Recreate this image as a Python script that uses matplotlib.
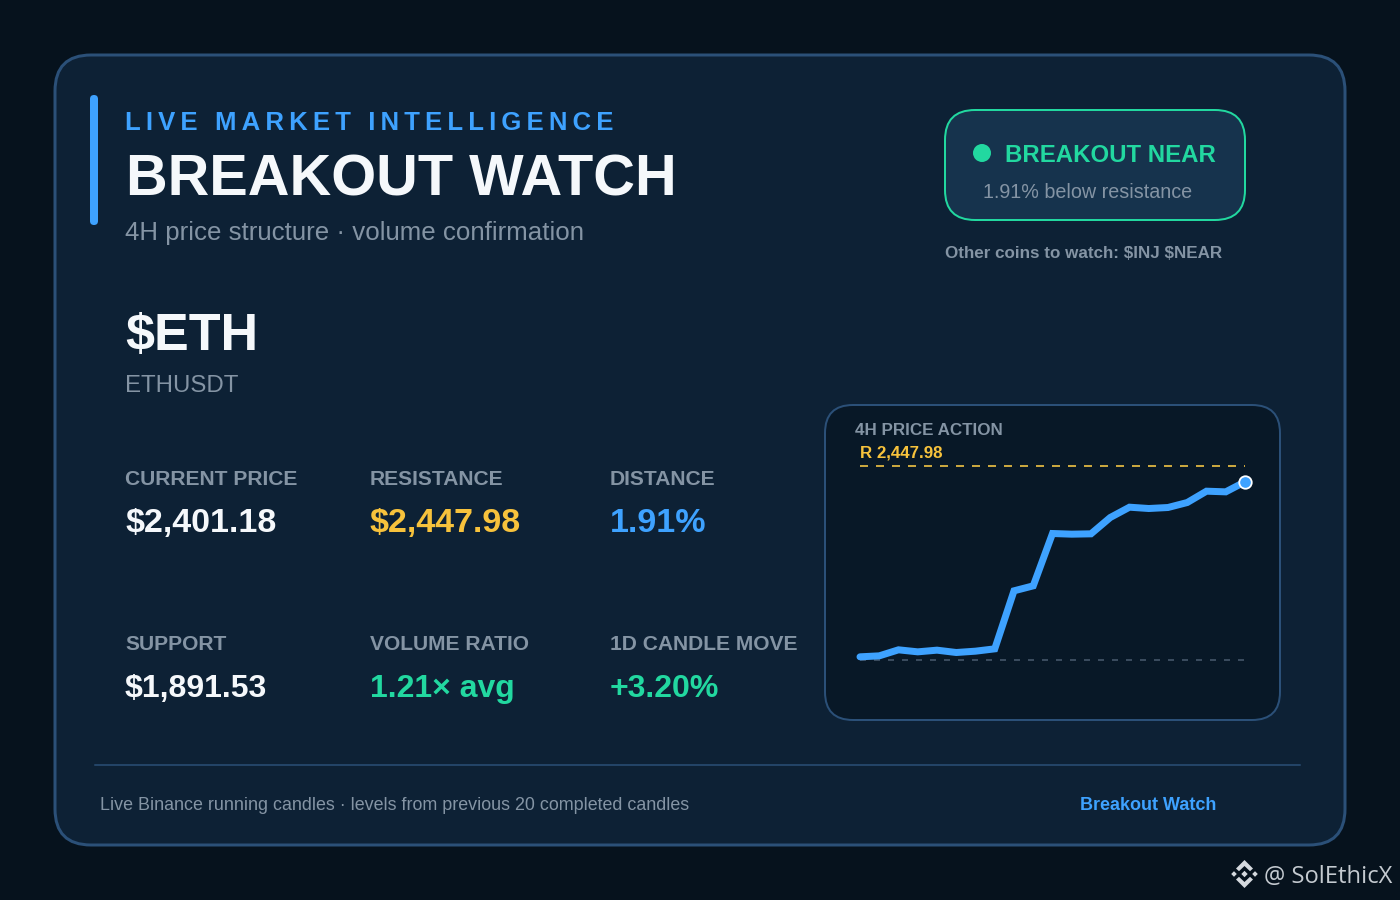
import matplotlib
matplotlib.use("Agg")
import matplotlib.pyplot as plt
from matplotlib.patches import FancyBboxPatch, Circle, Polygon

plt.rcParams['font.family'] = ['Liberation Sans', 'DejaVu Sans']

# ---- data ----
prices = [1899.2, 1902.0, 1919.3, 1913.5, 1918.3, 1911.6, 1915.4, 1922.1, 2088.5, 2102.8,
          2252.9, 2251.0, 2252.0, 2298.8, 2328.4, 2324.6, 2327.5, 2341.8, 2374.3, 2372.4, 2401.18]
candles = list(range(len(prices)))
resistance = 2447.98
support = 1891.53
metric_labels = ["CURRENT PRICE", "RESISTANCE", "DISTANCE", "SUPPORT", "VOLUME RATIO", "1D CANDLE MOVE"]
metric_values = ["$2,401.18", "$2,447.98", "1.91%", "$1,891.53", "1.21× avg", "+3.20%"]

BG = "#06121d"; CARD = "#0d2135"; BORDER = "#2b5078"; PANEL = "#081827"
BLUE = "#3ea2ff"; GREEN = "#22d8a0"; GOLD = "#f7c23c"; WHITE = "#f5f8fb"; GRAY = "#8494a4"
metric_colors = [WHITE, GOLD, BLUE, WHITE, GREEN, GREEN]

px = 0.72
fig = plt.figure(figsize=(14, 9), dpi=100, facecolor=BG)
bg = fig.add_axes([0, 0, 1, 1])
bg.set_xlim(0, 1400); bg.set_ylim(900, 0); bg.axis("off")

def rbox(x0, y0, x1, y1, r, fc, ec, lw):
    bg.add_patch(FancyBboxPatch((x0 + r, y0 + r), x1 - x0 - 2 * r, y1 - y0 - 2 * r,
                                boxstyle=f"round,pad={r},rounding_size={r}",
                                fc=fc, ec=ec, lw=lw * px, mutation_aspect=1))

def txt(x, y, s, size, color, weight="normal", **kw):
    bg.text(x, y, s, fontsize=size * px, color=color, weight=weight, va="baseline", parse_math=False, **kw)

rbox(55, 55, 1345, 845, 36, CARD, BORDER, 3)
rbox(90, 95, 98, 225, 4, BLUE, "none", 0)
txt(125, 130, "\u2009".join("LIVE MARKET INTELLIGENCE"), 25.7, BLUE, "bold")
txt(126, 195, "BREAKOUT WATCH", 57.8, WHITE, "bold")
txt(125, 240, "4H price structure · volume confirmation", 25.9, GRAY)
txt(125, 350, "$ETH", 52, WHITE, "bold")
txt(125, 392, "ETHUSDT", 24, GRAY)

xs = [125, 370, 610]
rows = [(485, 532, 34), (650, 697, 32)]
for i, (lab, val, col) in enumerate(zip(metric_labels, metric_values, metric_colors)):
    lb, vb, vs = rows[i // 3]
    txt(xs[i % 3], lb, lab, 21, GRAY, "bold")
    txt(xs[i % 3], vb, val, vs, col, "bold")

rbox(945, 110, 1245, 220, 30, "#16334d", GREEN, 2)
bg.add_patch(Circle((982, 153), 9, fc=GREEN, ec="none"))
txt(1005, 162, "BREAKOUT NEAR", 24, GREEN, "bold")
txt(983, 198, "1.91% below resistance", 19.8, GRAY)
txt(945, 258, "Other coins to watch: $INJ $NEAR", 17, GRAY, "bold")

rbox(825, 405, 1280, 720, 28, PANEL, BORDER, 2)
txt(855, 435, "4H PRICE ACTION", 17, GRAY, "bold")
txt(860, 457, "R 2,447.98", 16.9, GOLD, "bold")

bg.plot([95, 1300], [765, 765], color=BORDER, lw=1.5 * px)
txt(100, 810, "Live Binance running candles · levels from previous 20 completed candles", 17.9, GRAY)
txt(1080, 810, "Breakout Watch", 18, BLUE, "bold")

# Binance-style mark
logo = "#d5d9de"
cx, cy = 1244.5, 874
for dx, dy, r in [(-10.5, 0, 2.8), (10.5, 0, 2.8), (0, 0, 3.2)]:
    bg.add_patch(Polygon([(cx + dx - r, cy + dy), (cx + dx, cy + dy - r), (cx + dx + r, cy + dy), (cx + dx, cy + dy + r)],
                         fc=logo, ec="none"))
for sgn in (-1, 1):
    bg.add_patch(Polygon([(cx - 8.5, cy + sgn * 5.5), (cx, cy + sgn * 14), (cx + 8.5, cy + sgn * 5.5),
                          (cx + 5.5, cy + sgn * 2.8), (cx, cy + sgn * 8), (cx - 5.5, cy + sgn * 2.8)],
                         fc=logo, ec="none"))
bg.text(1264, 883, "@ SolEthicX", fontsize=23.8 * px, color="#c4cad0", family="Open Sans", weight="normal", va="baseline")

# ---- sparkline axes: x 860..1245 px, resistance at 465.3 px, support at 659.3 px ----
top, bottom, left, right = 465.5, 659.5, 860, 1245
ax = fig.add_axes([left / 1400, 1 - bottom / 900, (right - left) / 1400, (bottom - top) / 900])
ax.patch.set_alpha(0); ax.axis("off")
ax.set_xlim(candles[0], candles[-1]); ax.set_ylim(support, resistance)
ax.plot(candles, [resistance] * len(candles), color="#c9a63f", lw=2 * px, dashes=(4, 4), clip_on=False, dash_capstyle="butt")
ax.plot(candles, [support] * len(candles), color="#3a4b5e", lw=2 * px, dashes=(3, 4), clip_on=False, dash_capstyle="butt")
ax.plot(candles, prices, color=BLUE, lw=7 * px, clip_on=False, solid_joinstyle="miter", solid_capstyle="round")
ax.plot(candles[-1:], prices[-1:], "o", ms=12.5 * px, mfc=BLUE, mec="white", mew=1.8 * px, clip_on=False)

fig.savefig("out.png", dpi=100, facecolor=BG)
